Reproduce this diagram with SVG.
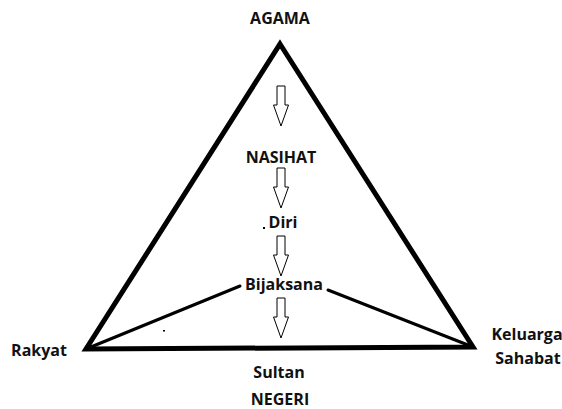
<svg xmlns="http://www.w3.org/2000/svg" width="562" height="409" viewBox="0 0 562 409">
<style>
.t{font-family:"Open Sans","Liberation Sans",sans-serif;font-weight:700;font-size:16px;fill:#111;text-anchor:middle}
.edge{stroke:#000;fill:none;stroke-linecap:round;stroke-linejoin:miter}
.arr{fill:#fff;stroke:#000;stroke-width:1}
</style>
<defs>
<path id="ar" class="arr" d="M-4,0 H4 V19 H7.5 L0,40 L-7.5,19 H-4 Z"/>
</defs>
<rect width="562" height="409" fill="#fff"/>
<g id="connectors">
<path class="edge" stroke-width="5" d="M280,44 L473,347 L86,349 Z"/>
<path class="edge" stroke-width="3" d="M86,349 L240,286"/>
<path class="edge" stroke-width="3" d="M473,347 L328,290"/>
<use href="#ar" x="281" y="86"/>
<use href="#ar" x="281" y="168"/>
<use href="#ar" x="281" y="236"/>
<use href="#ar" x="281" y="298"/>
<rect x="263" y="227" width="2" height="2" fill="#000"/>
<rect x="163" y="330" width="2" height="1.5" fill="#000"/>
</g>
<g id="agama"><text class="t" x="280" y="24">AGAMA</text></g>
<g id="nasihat"><text class="t" x="281" y="163">NASIHAT</text></g>
<g id="diri"><text class="t" x="283" y="228">Diri</text></g>
<g id="bijaksana"><text class="t" x="284" y="290">Bijaksana</text></g>
<g id="rakyat"><text class="t" x="39" y="356">Rakyat</text></g>
<g id="keluarga"><text class="t" x="527" y="340">Keluarga</text><text class="t" x="528" y="364">Sahabat</text></g>
<g id="sultan"><text class="t" x="279" y="378">Sultan</text></g>
<g id="negeri"><text class="t" x="280" y="405">NEGERI</text></g>
</svg>
